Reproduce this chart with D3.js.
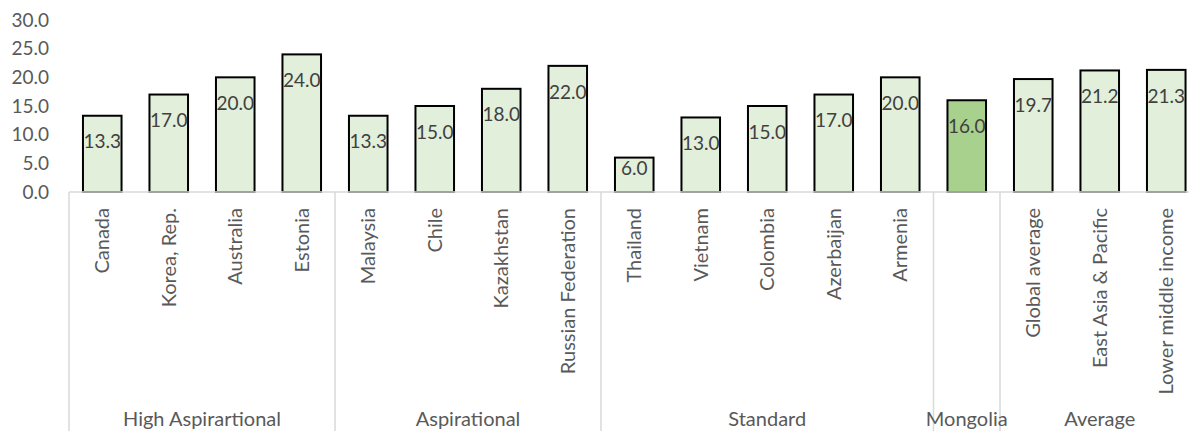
<!DOCTYPE html>
<html>
<head>
<meta charset="utf-8">
<script src="https://cdn.jsdelivr.net/npm/d3@7"></script>
<style>
  html, body { margin: 0; padding: 0; background: #ffffff; }
  svg { display: block; font-family: Lato, "Open Sans", sans-serif; }
</style>
</head>
<body>
<svg id="chart" width="1189" height="431"></svg>
<script>
// Category names (the Mongolia bar carries its name on the group row only)
const categories = ["Canada", "Korea, Rep.", "Australia", "Estonia",
  "Malaysia", "Chile", "Kazakhstan", "Russian Federation",
  "Thailand", "Vietnam", "Colombia", "Azerbaijan", "Armenia",
  "",
  "Global average", "East Asia & Pacific", "Lower middle income"];
const values = [13.3, 17.0, 20.0, 24.0,
  13.3, 15.0, 18.0, 22.0,
  6.0, 13.0, 15.0, 17.0, 20.0,
  16.0,
  19.7, 21.2, 21.3];
const groups = ["High Aspirartional", "Aspirational", "Standard", "Mongolia", "Average"];
const groupSizes = [4, 4, 5, 1, 3];
const highlightGroup = "Mongolia";
const yTicks = [0, 5, 10, 15, 20, 25, 30];

const svg = d3.select("#chart");
const left = 69, step = 66.5;
const right = left + step * categories.length;   // extends past the frame edge
const y0 = 192, yTop = 20;

const x = d3.scaleBand()
  .domain(d3.range(categories.length))
  .range([left, right])
  .paddingInner(0.42)
  .paddingOuter(0.21);

const y = d3.scaleLinear().domain([0, 30]).range([y0, yTop]);

// group index for each bar
const groupOf = [];
groupSizes.forEach((n, gi) => { for (let k = 0; k < n; k++) groupOf.push(gi); });

// y axis labels
const yAxis = svg.append("g")
  .attr("transform", "translate(49,0)")
  .call(d3.axisLeft(y).tickValues(yTicks).tickFormat(d3.format(".1f")).tickSize(0).tickPadding(0));
yAxis.select(".domain").remove();
yAxis.selectAll("text")
  .attr("fill", "#595959")
  .style("font-size", "19px")
  .style("font-family", "Lato, sans-serif");

// bars
svg.append("g").selectAll("rect")
  .data(values)
  .join("rect")
  .attr("x", (d, i) => x(i))
  .attr("y", d => y(d))
  .attr("width", x.bandwidth())
  .attr("height", d => y0 - y(d))
  .attr("fill", (d, i) => groups[groupOf[i]] === highlightGroup ? "#A9D18E" : "#E2EFDA")
  .attr("stroke", "#000000")
  .attr("stroke-width", 2);

// value labels, placed inside the bar near its top
svg.append("g").selectAll("text")
  .data(values)
  .join("text")
  .attr("x", (d, i) => x(i) + x.bandwidth() / 2)
  .attr("y", d => Math.min(y(d) + 26, y0 - 24))
  .attr("dy", "0.35em")
  .attr("text-anchor", "middle")
  .attr("fill", "#404040")
  .style("font-size", "19px")
  .text(d => d3.format(".1f")(d));

// horizontal category axis line
svg.append("line")
  .attr("x1", left).attr("x2", right)
  .attr("y1", y0).attr("y2", y0)
  .attr("stroke", "#d9d9d9").attr("stroke-width", 1.5);

// group separators
let acc = 0;
const bounds = [0];
groupSizes.forEach(n => { acc += n; bounds.push(acc); });
svg.append("g").selectAll("line")
  .data(bounds)
  .join("line")
  .attr("x1", b => left + b * step).attr("x2", b => left + b * step)
  .attr("y1", y0).attr("y2", 431)
  .attr("stroke", "#d9d9d9").attr("stroke-width", 1.5);

// rotated category labels
svg.append("g").selectAll("text")
  .data(categories)
  .join("text")
  .attr("transform", (d, i) => `translate(${x(i) + x.bandwidth() / 2 + 7},208) rotate(-90)`)
  .attr("text-anchor", "end")
  .attr("fill", "#595959")
  .style("font-size", "20px")
  .text(d => d);

// group labels
svg.append("g").selectAll("text")
  .data(groups)
  .join("text")
  .attr("x", (g, gi) => left + (bounds[gi] + bounds[gi + 1]) / 2 * step)
  .attr("y", 426)
  .attr("text-anchor", "middle")
  .attr("fill", "#595959")
  .style("font-size", "20px")
  .text(g => g);
</script>
</body>
</html>
